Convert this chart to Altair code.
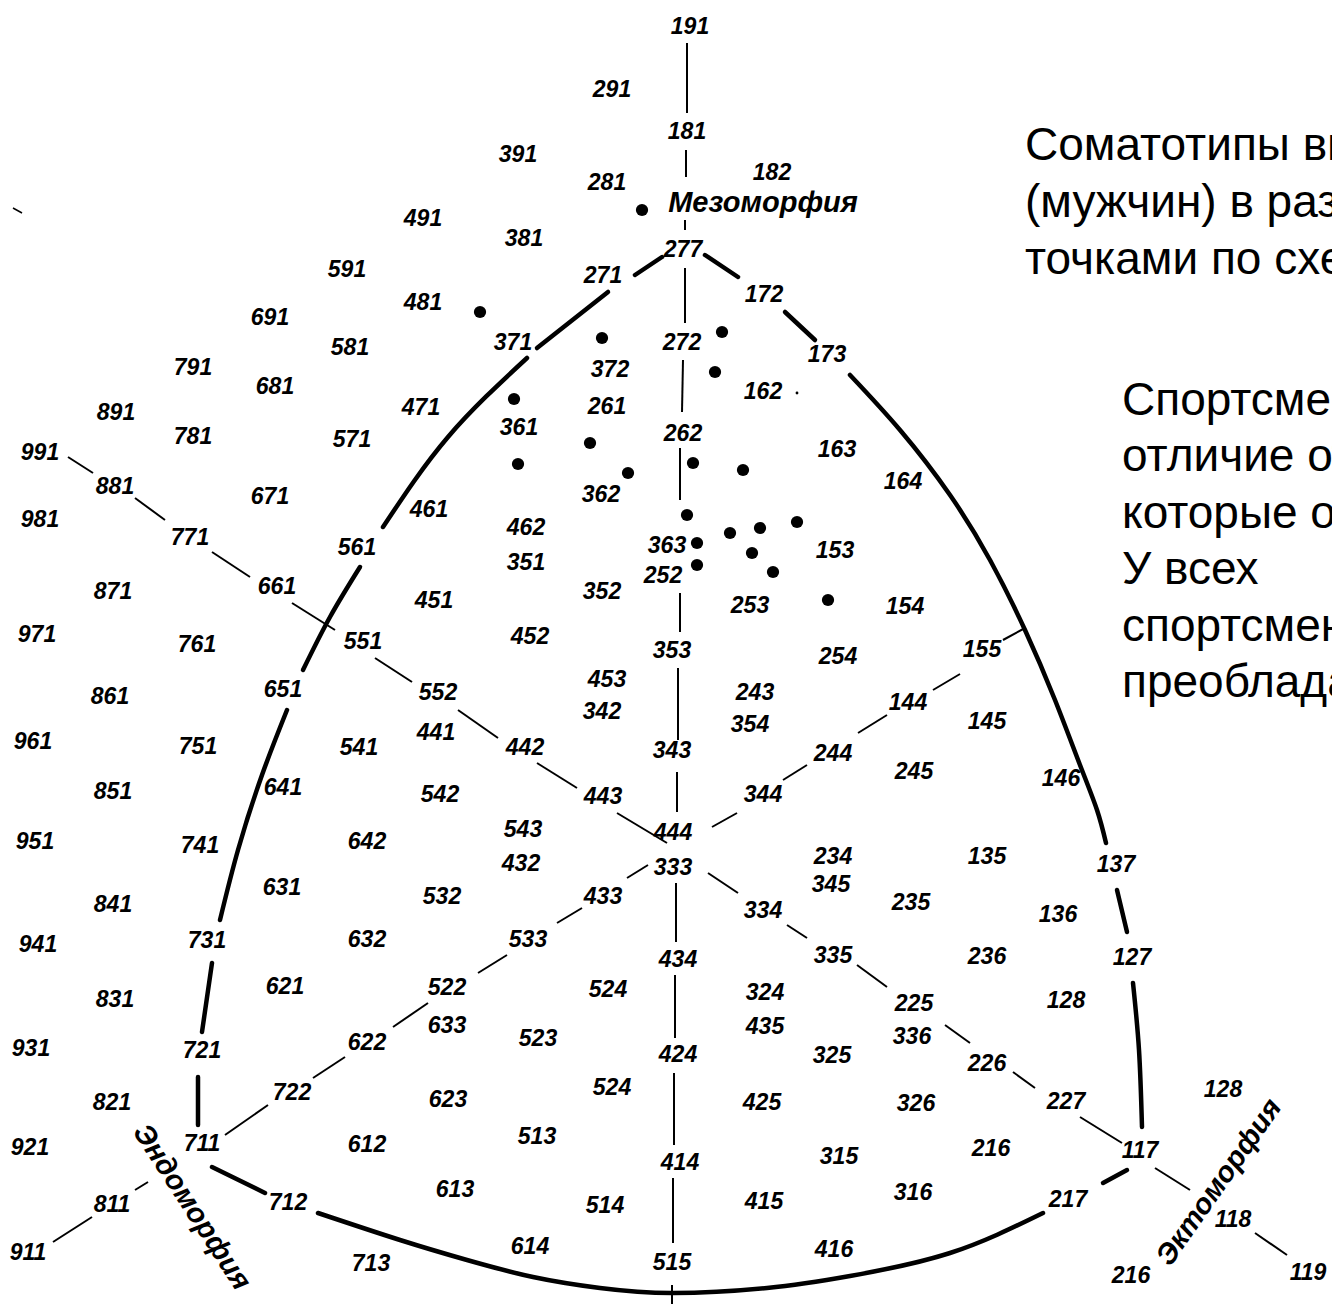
import altair as alt
import pandas as pd

W, H = 1332, 1304

# Somatotype codes printed on the chart: (code, x, y) in chart units
codes = [
    ("191", 690, 27), ("291", 612, 90), ("181", 687, 132), ("391", 518, 155),
    ("182", 772, 173), ("281", 607, 183), ("491", 423, 219), ("381", 524, 239),
    ("277", 683, 250), ("591", 347, 270), ("271", 603, 276), ("172", 764, 295),
    ("481", 423, 303), ("691", 270, 318), ("581", 350, 348), ("371", 513, 343),
    ("272", 682, 343), ("173", 827, 355), ("372", 610, 370), ("791", 193, 368),
    ("681", 275, 387), ("162", 763, 392), ("261", 607, 407), ("471", 421, 408),
    ("891", 116, 413), ("361", 519, 428), ("262", 683, 434), ("781", 193, 437),
    ("571", 352, 440), ("163", 837, 450), ("991", 40, 453), ("881", 115, 487),
    ("671", 270, 497), ("164", 903, 482), ("362", 601, 495), ("461", 429, 510),
    ("981", 40, 520), ("462", 526, 528), ("771", 190, 538), ("363", 667, 546),
    ("561", 357, 548), ("153", 835, 551), ("351", 526, 563), ("252", 663, 576),
    ("661", 277, 587), ("871", 113, 592), ("352", 602, 592), ("451", 434, 601),
    ("253", 750, 606), ("154", 905, 607), ("971", 37, 635), ("761", 197, 645),
    ("551", 363, 642), ("452", 530, 637), ("353", 672, 651), ("254", 838, 657),
    ("155", 982, 650), ("453", 607, 680), ("651", 283, 690), ("552", 438, 693),
    ("243", 755, 693), ("861", 110, 697), ("144", 908, 703), ("342", 602, 712),
    ("354", 750, 725), ("145", 987, 722), ("441", 436, 733), ("961", 33, 742),
    ("751", 198, 747), ("541", 359, 748), ("442", 525, 748), ("343", 672, 751),
    ("244", 833, 754), ("245", 914, 772), ("146", 1061, 779), ("641", 283, 788),
    ("851", 113, 792), ("542", 440, 795), ("443", 603, 797), ("344", 763, 795),
    ("543", 523, 830), ("444", 673, 833), ("951", 35, 842), ("741", 200, 846),
    ("642", 367, 842), ("135", 987, 857), ("234", 833, 857), ("137", 1116, 865),
    ("432", 521, 864), ("333", 673, 868), ("345", 831, 885), ("631", 282, 888),
    ("532", 442, 897), ("433", 603, 897), ("235", 911, 903), ("841", 113, 905),
    ("334", 763, 911), ("136", 1058, 915), ("941", 38, 945), ("731", 207, 941),
    ("632", 367, 940), ("533", 528, 940), ("434", 678, 960), ("335", 833, 956),
    ("236", 987, 957), ("127", 1132, 958), ("621", 285, 987), ("522", 447, 988),
    ("524", 608, 990), ("324", 765, 993), ("831", 115, 1000), ("225", 914, 1004),
    ("128", 1066, 1001), ("633", 447, 1026), ("435", 765, 1027), ("336", 912, 1037),
    ("523", 538, 1039), ("622", 367, 1043), ("931", 31, 1049), ("721", 202, 1051),
    ("424", 678, 1055), ("325", 832, 1056), ("226", 987, 1064), ("524", 612, 1088),
    ("128", 1223, 1090), ("722", 292, 1093), ("623", 448, 1100), ("425", 762, 1103),
    ("326", 916, 1104), ("227", 1066, 1102), ("821", 112, 1103), ("513", 537, 1137),
    ("711", 202, 1144), ("612", 367, 1145), ("921", 30, 1148), ("216", 991, 1149),
    ("117", 1140, 1151), ("315", 839, 1157), ("414", 680, 1163), ("613", 455, 1190),
    ("316", 913, 1193), ("217", 1068, 1200), ("415", 764, 1202), ("712", 288, 1203),
    ("514", 605, 1206), ("811", 112, 1205), ("118", 1233, 1220), ("614", 530, 1247),
    ("416", 834, 1250), ("911", 28, 1253), ("515", 672, 1263), ("713", 371, 1264),
    ("216", 1131, 1276), ("119", 1308, 1273),
]

# Athletes' somatotypes (filled dots)
athletes = [
    (642, 210), (480, 312), (602, 338), (722, 332), (715, 372), (514, 399),
    (590, 443), (518, 464), (628, 473), (693, 463), (743, 470), (687, 515),
    (797, 522), (730, 533), (760, 528), (697, 543), (752, 553), (697, 565),
    (773, 572), (828, 600),
]
specks = [(797, 393)]

# Mesomorphy axis (vertical), broken around the codes: (x1, y1, x2, y2)
meso_axis = [
    (687, 43, 687, 113), (686, 150, 686, 177), (685, 220, 685, 230),
    (685, 268, 685, 323), (683, 360, 682, 412), (680, 448, 680, 500),
    (680, 593, 680, 632), (678, 668, 678, 740), (677, 772, 677, 812),
    (676, 883, 676, 942), (675, 975, 675, 1038), (674, 1073, 674, 1145),
    (673, 1178, 673, 1243), (672, 1285, 672, 1304),
]
# Endomorphy -> ectomorphy diagonal
endo_ecto_axis = [
    (68, 457, 93, 473), (135, 498, 165, 520), (212, 552, 250, 577),
    (292, 603, 335, 630), (375, 658, 412, 682), (458, 710, 498, 738),
    (537, 763, 577, 788), (617, 813, 667, 843), (708, 873, 738, 893),
    (787, 925, 807, 938), (857, 965, 887, 987), (945, 1025, 970, 1043),
    (1013, 1072, 1035, 1088), (1080, 1117, 1122, 1143), (1155, 1168, 1190, 1190),
    (1255, 1233, 1287, 1255),
]
# Ectomorphy-side diagonal towards the endomorphy corner
ecto_endo_axis = [
    (1003, 640, 1025, 628), (933, 690, 960, 674), (858, 733, 887, 715),
    (783, 780, 807, 765), (712, 827, 737, 813), (627, 878, 648, 865),
    (557, 923, 582, 908), (478, 973, 507, 955), (393, 1027, 428, 1003),
    (313, 1078, 345, 1057), (225, 1135, 268, 1105), (135, 1190, 148, 1182),
    (53, 1242, 92, 1217),
]
stray = [(13, 208, 22, 213)]

# Outline of the somatochart, drawn as pieces between the codes
outline = [
    [(635, 275), (662, 257)],
    [(705, 255), (738, 277)],
    [(785, 312), (815, 340)],
    [(850, 375), (900, 430), (950, 495), (990, 560), (1025, 630), (1055, 700),
     (1080, 765), (1097, 810), (1106, 843)],
    [(1117, 890), (1127, 932)],
    [(1133, 983), (1139, 1050), (1142, 1127)],
    [(1127, 1170), (1103, 1183)],
    [(1043, 1213), (950, 1253), (850, 1276), (767, 1288), (672, 1293),
     (600, 1288), (533, 1277), (467, 1260), (400, 1240), (318, 1213)],
    [(265, 1193), (212, 1167)],
    [(198, 1125), (198, 1077)],
    [(202, 1032), (212, 963)],
    [(220, 920), (238, 850), (262, 775), (287, 710)],
    [(303, 670), (330, 617), (360, 567)],
    [(383, 527), (448, 437), (527, 358)],
    [(537, 348), (608, 292)],
]

# Axis names: (text, x, y, angle)
axis_names = [
    ("Мезоморфия", 763, 203, 0),
    ("Эндоморфия", 192, 1207, 57),
    ("Эктоморфия", 1219, 1182, 305),
]

# Caption text at the right
caption_top = [
    "Соматотипы выдающихся спортсменов",
    "(мужчин) в различных видах спорта, обозначены",
    "точками по схеме Хит и Картер",
]
caption_body = [
    "Спортсмены отличаются от неспортсменов,",
    "отличие  от  которых  состоит  в",
    "которые  обладают  меньшей  эндоморфией.",
    "У  всех                              ",
    "спортсменов",
    "преобладает мезоморфия.",
]

# ---- tables ----
labels_df = pd.DataFrame(codes, columns=["code", "x", "y"])
dots_df = pd.DataFrame(athletes, columns=["x", "y"])
specks_df = pd.DataFrame(specks, columns=["x", "y"])
thin_df = pd.DataFrame(meso_axis + endo_ecto_axis + ecto_endo_axis,
                       columns=["x", "y", "x2", "y2"])
stray_df = pd.DataFrame(stray, columns=["x", "y", "x2", "y2"])
outline_rows = []
for i, piece in enumerate(outline):
    for j, (px, py) in enumerate(piece):
        outline_rows.append({"piece": i, "order": j, "x": px, "y": py})
outline_df = pd.DataFrame(outline_rows)
names_df = pd.DataFrame(axis_names, columns=["name", "x", "y", "angle"])
cap_rows = [{"t": t, "x": 1025, "y": 160 + 57 * i} for i, t in enumerate(caption_top)]
cap_rows += [{"t": t, "x": 1122, "y": 415 + 56.4 * i} for i, t in enumerate(caption_body)]
caption_df = pd.DataFrame(cap_rows)

xs = alt.Scale(domain=[0, W], nice=False, zero=False)
ys = alt.Scale(domain=[0, H], nice=False, zero=False, reverse=True)
X = alt.X("x:Q", scale=xs, axis=None)
Y = alt.Y("y:Q", scale=ys, axis=None)

thin = alt.Chart(thin_df).mark_rule(color="black", strokeWidth=2).encode(
    x=X, y=Y, x2="x2:Q", y2="y2:Q")
stray_mark = alt.Chart(stray_df).mark_rule(color="black", strokeWidth=1.5).encode(
    x=X, y=Y, x2="x2:Q", y2="y2:Q")
thick = alt.Chart(outline_df).mark_line(
    color="black", strokeWidth=4.5, interpolate="natural", strokeCap="round"
).encode(x=X, y=Y, detail="piece:N", order="order:Q")
dots = alt.Chart(dots_df).mark_circle(color="black", opacity=1, size=150).encode(x=X, y=Y)
speck_mark = alt.Chart(specks_df).mark_circle(color="black", opacity=1, size=8).encode(x=X, y=Y)

labels = alt.Chart(labels_df).mark_text(
    font="Liberation Sans", fontSize=23, fontStyle="italic", fontWeight="bold",
    align="center", baseline="middle", color="black"
).encode(x=X, y=Y, text="code:N")

names = alt.Chart(names_df).mark_text(
    font="Liberation Sans", fontSize=29, fontStyle="italic", fontWeight="bold",
    align="center", baseline="middle", color="black"
).encode(x=X, y=Y, text="name:N", angle=alt.Angle("angle:Q", scale=None))

caption = alt.Chart(caption_df).mark_text(
    font="Liberation Sans", fontSize=46, align="left", baseline="alphabetic",
    color="black", clip=True
).encode(x=X, y=Y, text="t:N")

chart = alt.layer(
    thin, stray_mark, thick, dots, speck_mark, labels, names, caption
).properties(
    width=W, height=H, padding=0, background="white",
    autosize=alt.AutoSizeParams(type="none"),
).configure_view(stroke=None)

chart.save("out.html", embed_options={"renderer": "svg", "actions": False})
